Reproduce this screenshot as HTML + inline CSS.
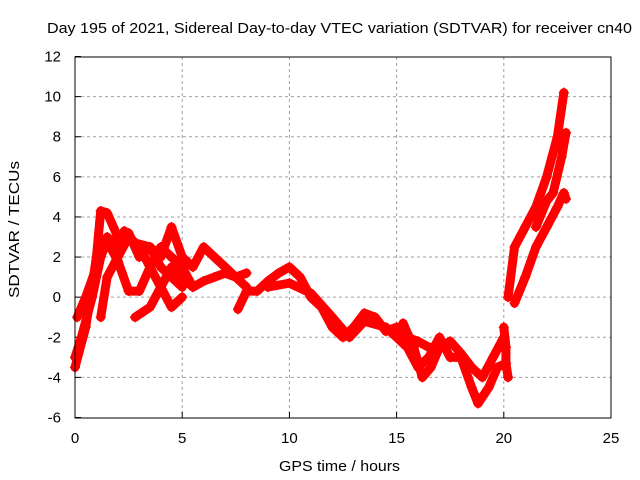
<!DOCTYPE html>
<html><head><meta charset="utf-8"><style>
body{margin:0;background:#fff}
svg{display:block;font-family:"Liberation Sans",sans-serif}
</style></head><body>
<svg id="chart" width="640" height="480" viewBox="0 0 640 480">
<text x="47" y="33" font-size="15" textLength="585" lengthAdjust="spacingAndGlyphs">Day 195 of 2021, Sidereal Day-to-day VTEC variation (SDTVAR) for receiver cn40</text>
<text x="279" y="471" font-size="15" textLength="121" lengthAdjust="spacingAndGlyphs">GPS time / hours</text>
<text transform="translate(19,298) rotate(-90)" font-size="15" textLength="137" lengthAdjust="spacingAndGlyphs">SDTVAR / TECUs</text>
<g id="grid"></g><g id="ticks"></g><g id="series"></g>
<rect x="75" y="57" width="536" height="361" fill="none" stroke="#000" stroke-width="1"/>
</svg>
<script>
const xTicks=[0,5,10,15,20,25];
const yTicks=[-6,-4,-2,0,2,4,6,8,10,12];
const trackA=[[0,-3.5],[0.5,-1.5],[1,2],[1.2,4.3],[1.5,4.2],[2,3],[2.5,3.2],[3,2],[3.5,2.5],[4,2],[4.5,3.5],[5,2],[5.5,1.5],[6,2.5],[6.5,2],[7,1.5],[7.5,1],[8,1.2]];
const trackB=[[0,-3],[0.3,-2],[0.8,0],[1.2,2],[1.5,3],[2,2.5],[2.3,3.3],[2.8,2.7],[3.5,2.5],[4,1.5],[4.5,1],[5,0.5]];
const trackC=[[0.1,-1],[0.5,0],[1,1.5],[1.5,2.8],[2,1.8],[2.5,0.3],[3,0.3],[3.5,1.5],[4,2.5],[4.5,2],[5,1.5],[5.5,0.5]];
const trackD=[[1.2,-1],[1.5,1],[2,2],[2.5,3],[3,2.5],[3.5,1.5],[4,0.5],[4.5,-0.5],[5,0]];
const trackE=[[2.8,-1],[3.5,-0.5],[4,0.5],[4.5,1.5],[5,1],[5.5,0.5],[6,0.8],[6.5,1.0],[7,1.2],[7.5,1],[8,0.5]];
const trackF=[[7.6,-0.6],[8,0.3],[8.5,0.3],[9,0.8],[9.5,1.2],[10,1.5],[10.5,1],[11,0],[11.5,-0.5],[12,-1.5],[12.5,-2],[13,-1.5],[13.5,-0.8],[14,-1],[14.5,-1.7],[15,-1.5],[15.5,-2],[16,-2.2],[16.5,-2.5],[17,-2.5],[17.5,-2.2],[18,-2.8],[18.5,-3.5],[19,-4],[19.5,-3],[20,-2]];
const trackG=[[9,0.5],[10,0.7],[11,0.2],[12,-1],[12.8,-2],[13.5,-1.2],[14.5,-1.5],[15.5,-2.5],[16,-3.5],[16.5,-3],[17,-2],[17.5,-3],[18,-3],[18.5,-4.5],[18.8,-5.3],[19.3,-4.5],[19.7,-3.5],[20.1,-3.3]];
const trackH=[[15.3,-1.3],[15.8,-2.5],[16.2,-4],[16.6,-3.5],[17,-2.5]];
const trackK=[[20,-1.5],[20.1,-2.5],[20.1,-3.3],[20.2,-4]];
const trackI=[[20.2,0],[20.5,2.5],[21,3.5],[21.5,4.5],[22,6],[22.5,8],[22.8,10.2]];
const trackJ=[[20.5,-0.3],[21,1],[21.5,2.5],[22,3.5],[22.5,4.5],[22.8,5.2],[22.9,4.9]];
const trackL=[[21.5,3.5],[22,4.8],[22.3,5.2],[22.7,7],[22.9,8.2]];
const tracks=[trackA,trackB,trackC,trackD,trackE,trackF,trackG,trackH,trackK,trackI,trackJ,trackL];
const X=h=>75+h*536/25, Y=v=>417.5-(v+6)*361/18;
const NS="http://www.w3.org/2000/svg";
const grid=document.getElementById('grid'),ticks=document.getElementById('ticks'),ser=document.getElementById('series');
function mk(tag,attrs,parent){const e=document.createElementNS(NS,tag);for(const k in attrs)e.setAttribute(k,attrs[k]);parent.appendChild(e);return e;}
xTicks.forEach(t=>{
 if(t>0&&t<25){const l=mk('line',{x1:X(t),x2:X(t),y1:57,y2:418,stroke:'#a0a0a0','stroke-dasharray':'3,3'},grid);
 
 }
 const tx=mk('text',{x:X(t),y:443,'font-size':15,'text-anchor':'middle'},ticks);tx.textContent=t;
 
 
 mk('line',{x1:X(t),x2:X(t),y1:418,y2:412,stroke:'#000'},ticks);
});
yTicks.forEach(t=>{
 if(t>-6&&t<12){const l=mk('line',{x1:75,x2:611,y1:Y(t),y2:Y(t),stroke:'#a0a0a0','stroke-dasharray':'3,3'},grid);
 
 }
 const tx=mk('text',{x:61,y:Y(t)+5,'font-size':15,'text-anchor':'end'},ticks);tx.textContent=t;
 
 
 mk('line',{x1:75,x2:81,y1:Y(t),y2:Y(t),stroke:'#000'},ticks);
});
tracks.forEach(tr=>{
 const p=mk('polyline',{points:tr.map(d=>X(d[0])+','+Y(d[1])).join(' '),fill:'none',stroke:'#ff0000','stroke-width':9,'stroke-linejoin':'round','stroke-linecap':'round'},ser);
 
 
 tr.forEach(d=>{
  const m=mk('path',{d:`M${X(d[0])-5},${Y(d[1])}h10M${X(d[0])},${Y(d[1])-5}v10`,stroke:'#ff0000','stroke-width':1.5},ser);
  
  
 });
});
</script>
</body></html>
